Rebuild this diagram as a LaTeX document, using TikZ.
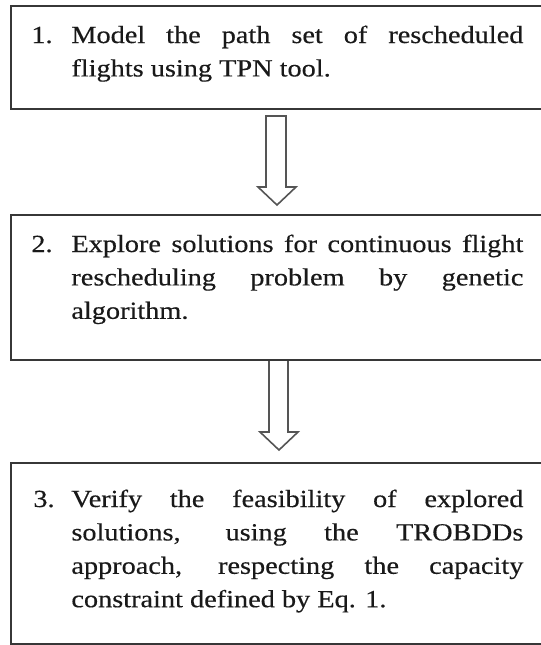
\documentclass[tikz,border=0pt]{standalone}
\usepackage{fontspec}
\setmainfont{Liberation Serif}[FakeStretch=1.15, FakeBold=0.4]
\usepackage{tikz}
\usetikzlibrary{calc}
\definecolor{resch@line}{RGB}{55,55,55}
\definecolor{resch@text}{RGB}{25,25,25}
\definecolor{resch@arrow}{RGB}{85,85,85}
\tikzset{
  resch/.style={
    x=0.5pt, y=-0.5pt,
    line join=miter
  },
  stepbox/.style={                 % one step of the procedure
    draw=resch@line, line width=1pt,
    anchor=north west,
    inner sep=0pt,
    minimum width=268pt
  },
  stepnum/.style={
    anchor=base west, inner sep=0pt,
    text=resch@text,
    font=\fontsize{12.3pt}{16.7pt}\selectfont
  },
  steptext/.style={
    anchor=base west, inner sep=0pt,
    text width=226pt, align=justify,
    text=resch@text,
    font=\fontsize{12.3pt}{16.7pt}\selectfont,
    execute at begin node={\tolerance=10000\hyphenpenalty=10000}
  },
  hollow/.style={draw=resch@arrow, line width=0.8pt}
}
\begin{document}
\begin{tikzpicture}[resch]
% Cropped frame
\useasboundingbox (0,0) rectangle (541,645);
\clip (0,0) rectangle (541,645);

% Step 1
\node[stepbox, minimum height=51.5pt] (box1) at (10,5) {};
\node[stepnum] (num1) at ($(box1.north west)+(21,38)$) {1.};
\node[steptext] (txt1) at ($(box1.north west)+(61,38)$)
  {Model the path set of rescheduled\linebreak flights using TPN tool.};

% Step 2
\node[stepbox, minimum height=72.5pt] (box2) at (10,214) {};
\node[stepnum] (num2) at ($(box2.north west)+(21,38)$) {2.};
\node[steptext] (txt2) at ($(box2.north west)+(61,38)$)
  {Explore solutions for continuous flight\linebreak rescheduling problem by genetic\linebreak algorithm.};

% Step 3
\node[stepbox, minimum height=90.5pt] (box3) at (10,462) {};
\node[stepnum] (num3) at ($(box3.north west)+(23,45)$) {3.};
\node[steptext] (txt3) at ($(box3.north west)+(61,45)$)
  {Verify the feasibility of explored\linebreak solutions, using the TROBDDs\linebreak approach, respecting the capacity\linebreak constraint defined by Eq. 1.};

% Hollow arrows between the steps
\draw[hollow]
  ($(box1.south)+(-13,6)$) -- ($(box1.south)+(7,6)$)
  -- ($(box2.north)+(7,-27)$) -- ($(box2.north)+(17,-27)$)
  -- ($(box2.north)+(-2,-9)$)
  -- ($(box2.north)+(-21,-27)$) -- ($(box2.north)+(-13,-27)$) -- cycle;
\draw[hollow]
  ($(box2.south)+(-10,0)$)
  -- ($(box3.north)+(-10,-30)$) -- ($(box3.north)+(-19,-30)$)
  -- ($(box3.north)+(0,-12)$)
  -- ($(box3.north)+(19,-30)$) -- ($(box3.north)+(9,-30)$)
  -- ($(box2.south)+(9,0)$);

\end{tikzpicture}
\end{document}
